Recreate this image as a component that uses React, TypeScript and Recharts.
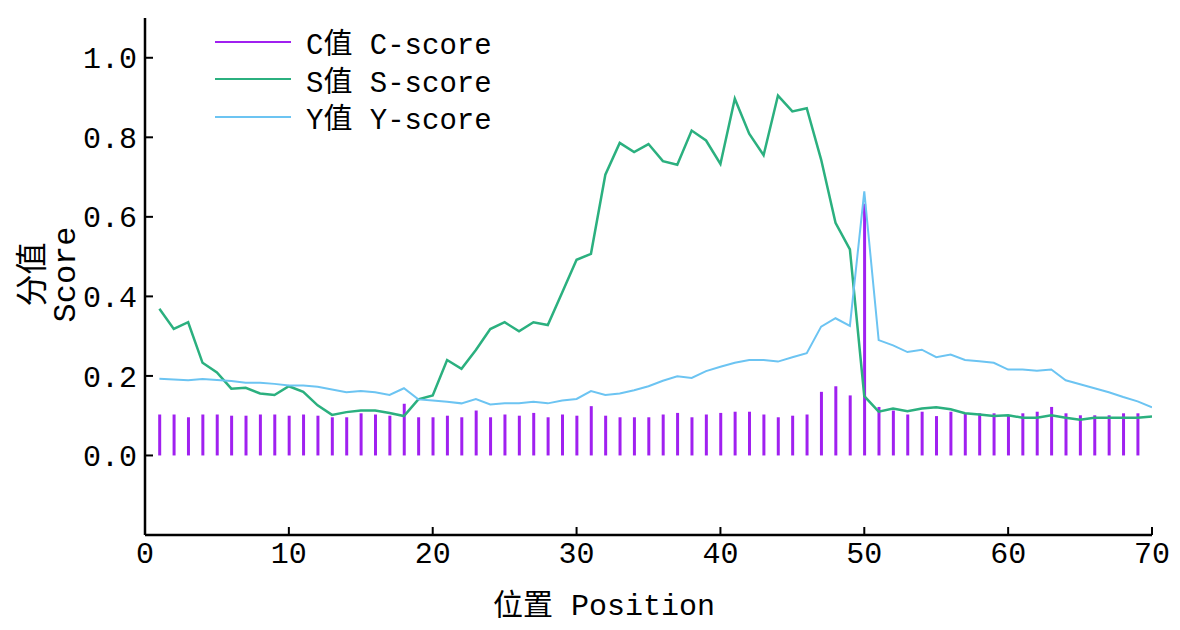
import React from "react";
import { ComposedChart, Line, Bar, XAxis, YAxis, Legend } from "recharts";

const FONT = '"Liberation Mono", "Noto Sans CJK SC", monospace';

const positions = [
  1, 2, 3, 4, 5, 6, 7, 8, 9, 10, 11, 12, 13, 14, 15, 16, 17, 18, 19, 20,
  21, 22, 23, 24, 25, 26, 27, 28, 29, 30, 31, 32, 33, 34, 35, 36, 37, 38, 39, 40,
  41, 42, 43, 44, 45, 46, 47, 48, 49, 50, 51, 52, 53, 54, 55, 56, 57, 58, 59, 60,
  61, 62, 63, 64, 65, 66, 67, 68, 69, 70,
];

const cScore = [
  0.103, 0.103, 0.096, 0.103, 0.103, 0.1, 0.1, 0.103, 0.103, 0.1, 0.103, 0.1, 0.096, 0.096, 0.106, 0.103, 0.1, 0.13, 0.096, 0.096, 0.1,
  0.096, 0.113, 0.096, 0.103, 0.1, 0.107, 0.096, 0.103, 0.1, 0.124, 0.1, 0.096, 0.096, 0.096, 0.103, 0.107, 0.096, 0.103, 0.107, 0.11,
  0.11, 0.103, 0.096, 0.1, 0.103, 0.16, 0.174, 0.151, 0.633, 0.122,
  0.113, 0.103, 0.11, 0.099, 0.11, 0.106, 0.106, 0.106, 0.101, 0.106, 0.11, 0.122, 0.106, 0.101, 0.101, 0.101, 0.106, 0.106,
  null,
];

const sScore = [
  0.369, 0.318, 0.335, 0.233, 0.209, 0.168, 0.17, 0.156, 0.152, 0.174, 0.16, 0.126, 0.102, 0.109, 0.113, 0.113, 0.107, 0.099, 0.141, 0.151, 0.24, 0.218,
  0.265, 0.318, 0.335, 0.312, 0.335, 0.328, 0.41, 0.492, 0.507, 0.706, 0.786, 0.763, 0.783, 0.74, 0.731, 0.817,
  0.792, 0.733, 0.897, 0.809, 0.755, 0.905, 0.865, 0.873, 0.744, 0.585, 0.518, 0.149,
  0.11, 0.118, 0.111, 0.118, 0.121, 0.116, 0.106, 0.103, 0.099, 0.101, 0.095, 0.095, 0.101, 0.095, 0.09, 0.095, 0.095, 0.095, 0.095, 0.098,
];

const yScore = [
  0.193, 0.191, 0.189, 0.192, 0.19, 0.187, 0.183, 0.183, 0.18, 0.176, 0.176, 0.173, 0.166, 0.159, 0.162, 0.159, 0.152, 0.169, 0.141, 0.138, 0.135, 0.131,
  0.142, 0.128, 0.131, 0.131, 0.135, 0.131, 0.138, 0.142, 0.162, 0.152, 0.156, 0.164, 0.174, 0.188, 0.199, 0.195, 0.212, 0.223, 0.233, 0.24, 0.24, 0.236, 0.247, 0.257,
  0.324, 0.345, 0.326, 0.664, 0.29, 0.277, 0.26, 0.266, 0.247, 0.254, 0.24, 0.237, 0.233, 0.216, 0.216, 0.213, 0.216, 0.189, 0.179, 0.169, 0.159, 0.147, 0.136, 0.121,
];

const xTicks = [0, 10, 20, 30, 40, 50, 60, 70];
const yTicks = [0, 0.2, 0.4, 0.6, 0.8, 1.0];

const data = positions.map((p, i) => ({
  pos: p,
  c: cScore[i],
  s: sScore[i],
  y: yScore[i],
}));

const COLORS = {
  c: "#a020f0",
  s: "#2bb07f",
  y: "#6cc4f2",
};

function LegendBox({ payload }: any) {
  return (
    <div style={{ fontFamily: FONT, fontSize: 29, color: "#000" }}>
      {(payload || []).map((entry: any) => (
        <div
          key={entry.value}
          style={{ display: "flex", alignItems: "center", height: 37.5 }}
        >
          <svg width={76} height={4} style={{ marginRight: 15 }}>
            <line x1={0} y1={2} x2={76} y2={2} stroke={entry.color} strokeWidth={2} />
          </svg>
          <span style={{ whiteSpace: "pre" }}>{entry.value}</span>
        </div>
      ))}
    </div>
  );
}

function YLabel({ viewBox }: any) {
  const cy = viewBox.y + viewBox.height / 2 - 2;
  return (
    <g fill="#000" fontFamily={FONT} fontSize={32}>
      <text transform={`translate(35, ${cy}) rotate(-90)`} textAnchor="middle">
        分值
      </text>
      <text transform={`translate(67, ${cy}) rotate(-90)`} textAnchor="middle">
        Score
      </text>
    </g>
  );
}

function XLabel({ viewBox }: any) {
  return (
    <text
      x={596}
      y={viewBox.y + 80}
      textAnchor="middle"
      fill="#000"
      fontFamily={FONT}
      fontSize={30}
    >
      位置 Position
    </text>
  );
}

export default function App() {
  return (
    <div style={{ width: 1172, height: 622, background: "#fff" }}>
      <ComposedChart
        width={1172}
        height={622}
        data={data}
        margin={{ top: 10, right: 28, bottom: 0, left: 0 }}
      >
        <XAxis
          dataKey="pos"
          type="number"
          domain={[0, 70]}
          ticks={xTicks}
          allowDataOverflow
          height={95}
          tickSize={-8}
          tickMargin={15}
          axisLine={{ stroke: "#000", strokeWidth: 2.5 }}
          tickLine={{ stroke: "#000", strokeWidth: 2 }}
          tick={{ fill: "#000", fontSize: 30, fontFamily: FONT }}
          label={<XLabel />}
        />
        <YAxis
          type="number"
          domain={[-0.2, 1.1]}
          ticks={yTicks}
          allowDataOverflow
          width={137}
          tickSize={-8}
          tickMargin={16}
          tickFormatter={(v: number) => v.toFixed(1)}
          axisLine={{ stroke: "#000", strokeWidth: 2.5 }}
          tickLine={{ stroke: "#000", strokeWidth: 2 }}
          tick={{ fill: "#000", fontSize: 30, fontFamily: FONT }}
          label={<YLabel />}
        />
        <Legend
          layout="vertical"
          align="center"
          verticalAlign="middle"
          content={<LegendBox />}
          wrapperStyle={{ left: 207, top: 15, width: 340, height: 115 }}
        />
        <Bar
          dataKey="c"
          name="C值 C-score"
          fill={COLORS.c}
          barSize={3}
          isAnimationActive={false}
        />
        <Line
          dataKey="s"
          name="S值 S-score"
          type="linear"
          stroke={COLORS.s}
          strokeWidth={2.5}
          dot={false}
          activeDot={false}
          isAnimationActive={false}
        />
        <Line
          dataKey="y"
          name="Y值 Y-score"
          type="linear"
          stroke={COLORS.y}
          strokeWidth={2}
          dot={false}
          activeDot={false}
          isAnimationActive={false}
        />
      </ComposedChart>
    </div>
  );
}
